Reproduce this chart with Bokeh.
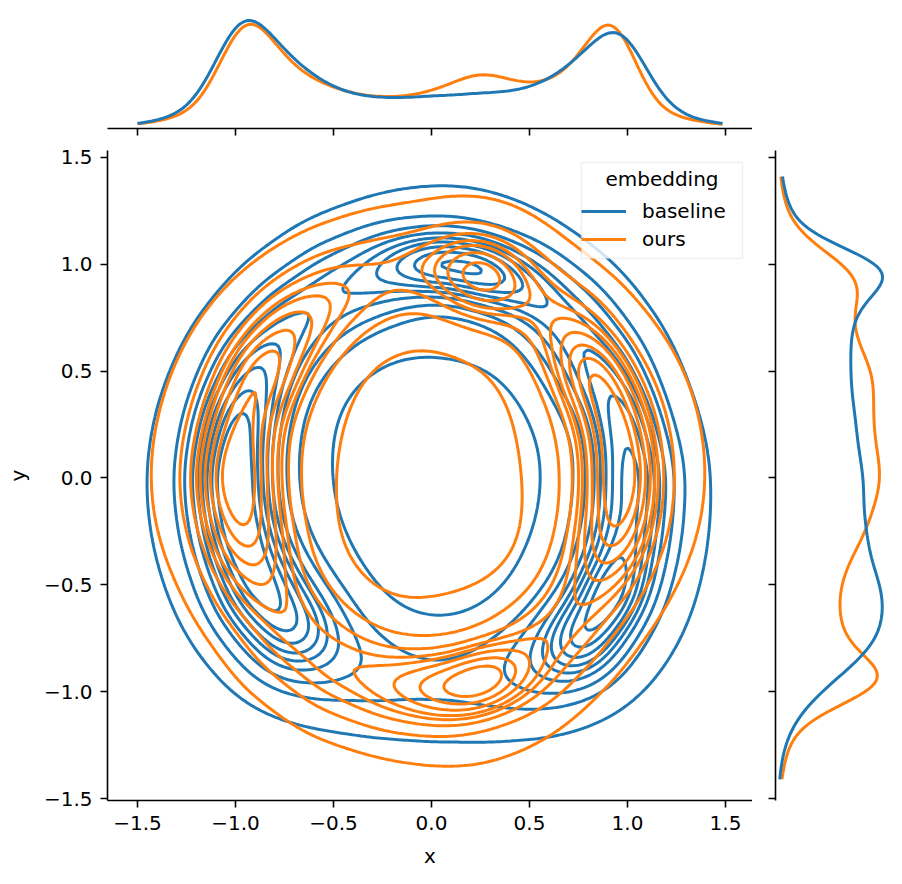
import numpy as np
from bokeh.plotting import figure
from bokeh.layouts import column, row
from bokeh.models import (Range1d, FixedTicker, Legend, LegendItem, Label,
                          CustomLabelingPolicy, BoxAnnotation)
from bokeh.embed import file_html
from bokeh.resources import INLINE

# ---------------- data ----------------
embeddings = ["baseline", "ours"]
colors = {"baseline": "#1f77b4", "ours": "#ff7f0e"}

# angular profile of each ring-shaped distribution (degrees, counter-clockwise from +x)
ring_angles = [0, 15, 30, 45, 60, 75, 90, 105, 120, 135, 150, 165,
               180, 195, 210, 225, 240, 255, 270, 285, 300, 315, 330, 345]

baseline_weight = [0.80, 0.65, 0.60, 0.50, 0.50, 0.74, 0.70, 0.50, 0.45, 0.50, 0.65, 0.90,
                   1.05, 1.00, 1.00, 0.90, 0.28, 0.20, 0.18, 0.20, 0.32, 0.90, 1.00, 0.75]
baseline_radius = [1.02, 1.01, 0.99, 1.00, 1.01, 1.00, 1.00, 0.99, 1.00, 1.01, 1.02, 1.01,
                   1.01, 1.01, 1.01, 1.00, 0.97, 0.96, 0.96, 0.98, 1.02, 1.07, 1.06, 1.03]
baseline_spread = [0.13, 0.12, 0.14, 0.14, 0.12, 0.10, 0.10, 0.13, 0.15, 0.15, 0.14, 0.13,
                   0.13, 0.13, 0.14, 0.15, 0.16, 0.16, 0.16, 0.16, 0.15, 0.13, 0.12, 0.13]

ours_weight = [1.00, 0.85, 0.85, 0.35, 0.25, 0.85, 0.25, 0.25, 0.35, 0.55, 0.85, 0.80,
               1.10, 0.85, 0.45, 0.40, 0.40, 0.40, 0.55, 0.85, 0.40, 0.35, 0.40, 0.80]
ours_radius = [0.96, 0.96, 0.95, 0.97, 0.98, 0.98, 0.98, 0.98, 0.99, 0.99, 0.99, 0.99,
               0.99, 0.98, 0.99, 1.00, 1.00, 0.99, 0.98, 0.98, 0.98, 0.97, 0.96, 0.96]
ours_spread = [0.11, 0.11, 0.11, 0.14, 0.13, 0.12, 0.13, 0.15, 0.14, 0.13, 0.12, 0.12,
               0.12, 0.13, 0.15, 0.16, 0.15, 0.13, 0.11, 0.10, 0.14, 0.15, 0.14, 0.12]

profiles = {
    "baseline": (baseline_weight, baseline_radius, baseline_spread),
    "ours": (ours_weight, ours_radius, ours_spread),
}
tangential_spread = 0.15
halo_spread = 0.27
halo_fraction = 0.38

# contour levels as iso-proportions of the density mass (seaborn style)
iso_proportions = [0.05, 0.1556, 0.2611, 0.3667, 0.4722, 0.5778, 0.6833, 0.7889, 0.8944]

tick_values = [-1.5, -1.0, -0.5, 0.0, 0.5, 1.0, 1.5]
tick_labels = ["\u22121.5", "\u22121.0", "\u22120.5", "0.0", "0.5", "1.0", "1.5"]
x_limits = (-1.653, 1.638)
y_limits = (-1.509, 1.532)
marg_x_extent = (-1.5, 1.5)
marg_y_extent = (-1.42, 1.42)
legend_box = (0.765, 1.587, 1.027, 1.476)   # left, right, bottom, top (data units)

# ---------------- density on a grid ----------------
gx = np.linspace(-1.8, 1.8, 241)
gy = np.linspace(-1.8, 1.8, 241)
X, Y = np.meshgrid(gx, gy)
dx = gx[1] - gx[0]
dy = gy[1] - gy[0]


def density(name):
    w, r, s = profiles[name]
    Z = np.zeros_like(X)
    st = tangential_spread
    for a, wi, ri, si in zip(ring_angles, w, r, s):
        t = np.deg2rad(a)
        cx, cy = ri * np.cos(t), ri * np.sin(t)
        dr = (X - cx) * np.cos(t) + (Y - cy) * np.sin(t)
        dt = -(X - cx) * np.sin(t) + (Y - cy) * np.cos(t)
        core = np.exp(-0.5 * (dr ** 2 / si ** 2 + dt ** 2 / st ** 2)) / (2 * np.pi * si * st)
        halo = np.exp(-0.5 * (dr ** 2 + dt ** 2) / halo_spread ** 2) / (2 * np.pi * halo_spread ** 2)
        Z += wi * ((1 - halo_fraction) * core + halo_fraction * halo)
    Z /= Z.sum() * dx * dy
    return Z


def iso_levels(Z):
    vals = np.sort(Z.ravel())[::-1]
    cum = np.cumsum(vals) / vals.sum()
    idx = np.searchsorted(cum, 1 - np.asarray(iso_proportions))
    lv = np.take(vals, idx, mode="clip")
    return sorted(set(float(v) for v in lv))


dens = {n: density(n) for n in embeddings}

FONT = "DejaVu Sans"
FS = "20px"


def style_axis(ax, labels=True):
    ax.axis_line_width = 1.6
    ax.axis_line_color = "black"
    ax.major_tick_line_width = 1.6
    ax.major_tick_line_color = "black"
    ax.major_tick_out = 7
    ax.major_tick_in = 0
    ax.minor_tick_line_color = None
    ax.ticker = FixedTicker(ticks=tick_values)
    if labels:
        ax.major_label_overrides = {v: l for v, l in zip(tick_values, tick_labels)}
        ax.major_label_text_font = FONT
        ax.major_label_text_font_size = FS
        ax.major_label_text_color = "black"
        ax.major_label_standoff = 8
        ax.axis_label_text_font = FONT
        ax.axis_label_text_font_size = FS
        ax.axis_label_text_font_style = "normal"
        ax.axis_label_text_color = "black"
        ax.axis_label_standoff = 11
    else:
        ax.major_label_policy = CustomLabelingPolicy(code="return []")
        ax.major_label_text_font_size = "1px"
        ax.major_label_standoff = 0
        ax.axis_label_standoff = 0


xr = Range1d(*x_limits)
yr = Range1d(*y_limits)

# ---------------- main joint plot ----------------
p = figure(frame_width=645, frame_height=650, x_range=xr, y_range=yr,
           min_border_left=107, min_border_right=0, min_border_top=11, min_border_bottom=84,
           output_backend="svg", toolbar_location=None, background_fill_color="white",
           border_fill_color="white")
p.outline_line_color = None
p.grid.visible = False
style_axis(p.xaxis[0])
style_axis(p.yaxis[0])
p.xaxis.axis_label = "x"
p.yaxis.axis_label = "y"

contour_renderers = {}
for n in embeddings:
    cr = p.contour(gx, gy, dens[n], iso_levels(dens[n]), line_color=colors[n], line_width=3)
    contour_renderers[n] = cr

p.add_layout(BoxAnnotation(left=legend_box[0], right=legend_box[1],
                           bottom=legend_box[2], top=legend_box[3],
                           fill_color="white", fill_alpha=0.8,
                           line_color="#cccccc", line_width=1.5, level="annotation"))
legend = Legend(items=[LegendItem(label=n, renderers=[contour_renderers[n].line_renderer])
                       for n in embeddings],
                location=(474, 547), title=" ", title_text_font_size=FS,
                title_standoff=3, label_text_font=FONT, label_text_font_size=FS,
                label_text_color="black", glyph_width=45, glyph_height=28, label_height=28,
                label_standoff=16, spacing=0, padding=7, margin=0,
                border_line_color=None, background_fill_color=None)
p.add_layout(legend)
p.add_layout(Label(x=1.176, y=1.40, text="embedding", text_align="center",
                   text_baseline="middle", text_font=FONT, text_font_size=FS,
                   text_color="black", level="overlay"))

# ---------------- top marginal ----------------
top_curves = {}
for n in embeddings:
    m = dens[n].sum(axis=0) * dy
    keep = (gx >= marg_x_extent[0]) & (gx <= marg_x_extent[1])
    top_curves[n] = (gx[keep], m[keep])
Mx = max(c[1].max() for c in top_curves.values())
ty0 = -2 * Mx / 106
ty1 = ty0 + 128 * Mx / 106

pt = figure(frame_width=645, frame_height=128, x_range=xr, y_range=Range1d(ty0, ty1),
            min_border_left=107, min_border_right=0, min_border_top=0, min_border_bottom=8,
            output_backend="svg", toolbar_location=None)
pt.outline_line_color = None
pt.grid.visible = False
pt.yaxis.visible = False
style_axis(pt.xaxis[0], labels=False)
for n in reversed(embeddings):
    pt.line(top_curves[n][0], top_curves[n][1], line_color=colors[n], line_width=3)

# ---------------- right marginal ----------------
right_curves = {}
for n in embeddings:
    m = dens[n].sum(axis=1) * dx
    keep = (gy >= marg_y_extent[0]) & (gy <= marg_y_extent[1])
    right_curves[n] = (gy[keep], m[keep])
My = max(c[1].max() for c in right_curves.values())
rx0 = -2 * My / 105
rx1 = rx0 + 125 * My / 105

pr = figure(frame_width=125, frame_height=650, x_range=Range1d(rx0, rx1), y_range=yr,
            min_border_left=23, min_border_right=0, min_border_top=11, min_border_bottom=84,
            output_backend="svg", toolbar_location=None)
pr.outline_line_color = None
pr.grid.visible = False
pr.xaxis.visible = False
style_axis(pr.yaxis[0], labels=False)
for n in reversed(embeddings):
    pr.line(right_curves[n][1], right_curves[n][0], line_color=colors[n], line_width=3)

layout = column(pt, row(p, pr, spacing=0), spacing=0)
open("out.html", "w").write(file_html(layout, INLINE))
